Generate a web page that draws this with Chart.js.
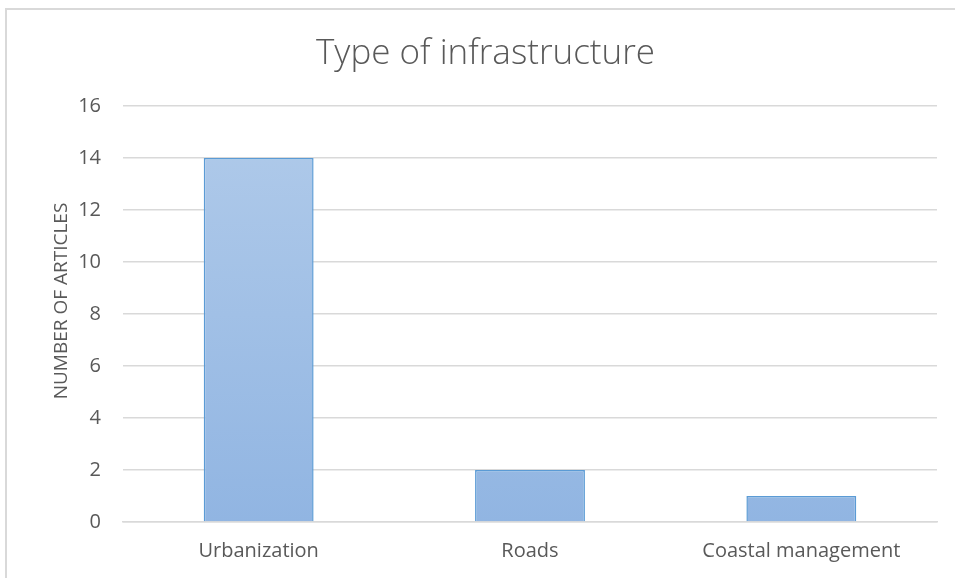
<!DOCTYPE html>
<html>
<head>
<meta charset="utf-8">
<script src="https://cdn.jsdelivr.net/npm/chart.js@4/dist/chart.umd.min.js"></script>
<style>
  html, body { margin: 0; padding: 0; background: #fff; }
  #wrap { width: 955px; height: 578px; }
</style>
</head>
<body>
<div id="wrap"><canvas id="infraChart" width="955" height="578"></canvas></div>
<script>
// Data
const categories = ['Urbanization', 'Roads', 'Coastal management'];
const articles = [14, 2, 1];
const yTicks = [0, 2, 4, 6, 8, 10, 12, 14, 16];
const yTitle = 'NUMBER OF ARTICLES';

const textColor = '#595959';
const fontFamily = "'Open Sans', sans-serif";

// Frame around the chart like the Excel chart area
const framePlugin = {
    id: 'frame',
    beforeDraw(chart) {
        const c = chart.ctx;
        c.save();
        c.fillStyle = '#fff';
        c.fillRect(0, 0, chart.width, chart.height);
        c.strokeStyle = '#d9d9d9';
        c.lineWidth = 2;
        c.beginPath();
        c.moveTo(6, chart.height + 2);
        c.lineTo(6, 9);
        c.lineTo(chart.width + 2, 9);
        c.stroke();
        c.restore();
    }
};

// Vertical axis title, placed a little above the plot centre like Excel does
const yTitlePlugin = {
    id: 'yTitle',
    afterDraw(chart) {
        const c = chart.ctx;
        const area = chart.chartArea;
        c.save();
        c.translate(62, (area.top + area.bottom) / 2 - 13);
        c.rotate(-Math.PI / 2);
        c.fillStyle = textColor;
        c.font = "19px 'Open Sans', sans-serif";
        c.textAlign = 'center';
        c.textBaseline = 'middle';
        c.fillText(yTitle, 0, 0);
        c.restore();
    }
};

function barGradient(context) {
    const chart = context.chart;
    const area = chart.chartArea;
    if (!area) return '#a3c0e6';
    const g = chart.ctx.createLinearGradient(0, area.top, 0, area.bottom);
    g.addColorStop(0, '#b1cbea');
    g.addColorStop(1, '#91b5e2');
    return g;
}

const ctx = document.getElementById('infraChart').getContext('2d');

new Chart(ctx, {
    type: 'bar',
    data: {
        labels: categories,
        datasets: [{
            label: 'Number of articles',
            data: articles,
            backgroundColor: barGradient,
            borderColor: '#5b9bd5',
            borderWidth: 1.5,
            categoryPercentage: 0.81,
            barPercentage: 0.5
        }]
    },
    options: {
        responsive: false,
        animation: false,
        // left padding shifts the title centre to match the original
        layout: { padding: { left: 34, right: 18, top: 0, bottom: 0 } },
        plugins: {
            legend: { display: false },
            tooltip: { enabled: false },
            title: {
                display: true,
                text: 'Type of infrastructure',
                color: textColor,
                font: { family: fontFamily, size: 35, weight: '300' },
                padding: { top: 33, bottom: 31 }
            }
        },
        scales: {
            x: {
                grid: { display: false },
                border: { color: '#d9d9d9', width: 1.5 },
                ticks: {
                    color: textColor,
                    font: { family: fontFamily, size: 20 },
                    padding: 9
                },
                afterFit(scale) { scale.height = 56; }
            },
            y: {
                min: 0,
                max: 16,
                afterBuildTicks(scale) {
                    scale.ticks = yTicks.map(v => ({ value: v }));
                },
                grid: { color: '#d9d9d9', lineWidth: 1.5, drawTicks: false },
                border: { display: false },
                ticks: {
                    color: textColor,
                    font: { family: fontFamily, size: 20 },
                    padding: 22
                },
                afterFit(scale) { scale.width = 89; }
            }
        }
    },
    plugins: [framePlugin, yTitlePlugin]
});
</script>
</body>
</html>
